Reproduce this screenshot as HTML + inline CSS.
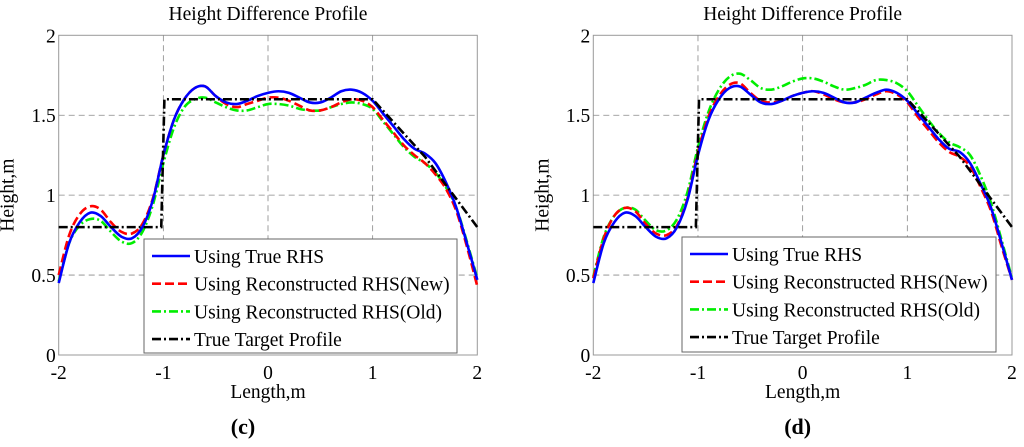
<!DOCTYPE html>
<html><head><meta charset="utf-8"><style>
body{margin:0;background:#fff;}
svg{display:block;font-family:"Liberation Serif",serif;}
</style></head><body>
<svg id="s" width="1024" height="447" viewBox="0 0 1024 447"></svg>
<script>
const xs=[-2,-1.9,-1.8,-1.7,-1.6,-1.5,-1.4,-1.3,-1.2,-1.1,-1,-0.9,-0.8,-0.7,-0.6,-0.5,-0.4,-0.3,-0.2,-0.1,0,0.1,0.2,0.3,0.4,0.5,0.6,0.7,0.8,0.9,1,1.1,1.2,1.3,1.4,1.5,1.6,1.7,1.8,1.9,2];
const cBlue=[0.45,0.7,0.83,0.89,0.87,0.8,0.74,0.73,0.8,0.97,1.25,1.47,1.6,1.67,1.68,1.62,1.58,1.57,1.59,1.62,1.64,1.65,1.64,1.61,1.58,1.58,1.61,1.65,1.66,1.64,1.59,1.51,1.43,1.35,1.29,1.26,1.2,1.08,0.92,0.7,0.47];
const cRed=[0.5,0.75,0.88,0.93,0.91,0.83,0.77,0.76,0.82,0.98,1.25,1.47,1.6,1.67,1.68,1.62,1.57,1.55,1.57,1.59,1.61,1.61,1.59,1.56,1.53,1.53,1.55,1.58,1.6,1.59,1.55,1.47,1.39,1.31,1.25,1.2,1.13,1.04,0.9,0.68,0.43];
const cGreen=[0.46,0.7,0.81,0.85,0.84,0.77,0.71,0.7,0.77,0.94,1.2,1.42,1.55,1.6,1.61,1.58,1.55,1.53,1.53,1.55,1.57,1.57,1.56,1.54,1.53,1.53,1.55,1.57,1.58,1.57,1.54,1.46,1.38,1.3,1.24,1.2,1.14,1.05,0.92,0.71,0.48];
const dBlue=[0.45,0.7,0.83,0.89,0.87,0.8,0.74,0.73,0.8,0.97,1.25,1.47,1.6,1.67,1.68,1.63,1.58,1.57,1.59,1.62,1.64,1.65,1.64,1.61,1.58,1.58,1.61,1.64,1.66,1.64,1.59,1.51,1.43,1.35,1.29,1.27,1.2,1.07,0.92,0.7,0.47];
const dRed=[0.48,0.73,0.87,0.92,0.9,0.82,0.76,0.75,0.81,0.98,1.27,1.49,1.62,1.69,1.7,1.64,1.59,1.58,1.59,1.62,1.64,1.65,1.63,1.6,1.58,1.58,1.6,1.63,1.65,1.63,1.58,1.49,1.41,1.33,1.27,1.24,1.18,1.05,0.9,0.68,0.47];
const dGreen=[0.49,0.74,0.87,0.92,0.91,0.84,0.78,0.78,0.85,1.02,1.3,1.52,1.66,1.74,1.76,1.72,1.67,1.66,1.68,1.71,1.73,1.73,1.71,1.68,1.66,1.67,1.69,1.72,1.72,1.7,1.65,1.56,1.47,1.39,1.33,1.3,1.25,1.12,0.95,0.72,0.48];
const tX=[-2,-1.02,-0.99,1,1.5,2];
const tY=[0.8,0.8,1.6,1.6,1.24,0.8];
const xTicks=[-2,-1,0,1,2];
const yTicks=[0,0.5,1,1.5,2];
const yTickLabels=["0","0.5","1","1.5","2"];
const legendLabels=["Using True RHS","Using Reconstructed RHS(New)","Using Reconstructed RHS(Old)","True Target Profile"];
const NS="http://www.w3.org/2000/svg";
const svg=document.getElementById('s');
const FS=19.5;
function mk(tag,attrs,parent,text){const e=document.createElementNS(NS,tag);for(const k in attrs)e.setAttribute(k,attrs[k]);if(text!==undefined)e.textContent=text;(parent||svg).appendChild(e);return e;}
function smooth(pts){let d=`M${pts[0][0]},${pts[0][1]}`;for(let i=0;i<pts.length-1;i++){const p0=pts[i-1]||pts[i],p1=pts[i],p2=pts[i+1],p3=pts[i+2]||p2;d+=` C${p1[0]+(p2[0]-p0[0])/6},${p1[1]+(p2[1]-p0[1])/6} ${p2[0]-(p3[0]-p1[0])/6},${p2[1]-(p3[1]-p1[1])/6} ${p2[0]},${p2[1]}`;}return d;}
const styles=[{c:"#0000ff",d:""},{c:"#ff0000",d:"9,4"},{c:"#00ee00",d:"9,3,2,3"},{c:"#000",d:"9,3,2,3"}];
function panel(name,L,R,T,B,blue,red,green,leg,label){
 const g=mk('g',{},svg);
 const X=v=>L+(v+2)/4*(R-L),Y=v=>B-v/2*(B-T);
 mk('rect',{x:L,y:T,width:R-L,height:B-T,fill:'#fff',stroke:'#999','stroke-width':1},g);
 xTicks.slice(1,-1).forEach(t=>{const l=mk('line',{x1:X(t),x2:X(t),y1:T,y2:B,stroke:'#888','stroke-dasharray':'6,4','stroke-width':0.8},g);});
 yTicks.slice(1,-1).forEach(t=>{const l=mk('line',{x1:L,x2:R,y1:Y(t),y2:Y(t),stroke:'#888','stroke-dasharray':'6,4','stroke-width':0.8},g);});
 xTicks.forEach(t=>{const e=mk('text',{x:X(t),y:B+24,'text-anchor':'middle','font-size':FS},g,String(t));});
 yTicks.forEach((t,i)=>{const e=mk('text',{x:L-3,y:Y(t)+7,'text-anchor':'end','font-size':FS},g,yTickLabels[i]);});
 const series=[blue,red,green];
 [2,1,0].forEach(i=>{const p=mk('path',{d:smooth(xs.map((x,j)=>[X(x),Y(series[i][j])])),fill:'none',stroke:styles[i].c,'stroke-width':2.6,'stroke-dasharray':styles[i].d},g);});
 const tp=mk('polyline',{points:tX.map((x,j)=>X(x)+','+Y(tY[j])).join(' '),fill:'none',stroke:'#000','stroke-width':2.6,'stroke-dasharray':'9,3,2,3'},g);
 
 const t=mk('text',{x:(L+R)/2,y:20,'text-anchor':'middle','font-size':FS},g,'Height Difference Profile');
 const xl=mk('text',{x:(L+R)/2,y:398,'text-anchor':'middle','font-size':FS},g,'Length,m');
 const yx=L-45;const yl=mk('text',{x:yx,y:(T+B)/2,'text-anchor':'middle','font-size':FS,transform:`rotate(-90 ${yx} ${(T+B)/2})`},g,'Height,m');
 const lg=mk('g',{},g);
 mk('rect',{x:leg[0],y:leg[1],width:leg[2],height:leg[3],fill:'#fff',stroke:'#666','stroke-width':1},lg);
 legendLabels.forEach((s,i)=>{const yy=leg[1]+17+i*27.7;const e=mk('g',{},lg);
  mk('line',{x1:leg[0]+8,x2:leg[0]+46,y1:yy,y2:yy,stroke:styles[i].c,'stroke-width':2.6,'stroke-dasharray':styles[i].d},e);
  mk('text',{x:leg[0]+50,y:yy+7,'font-size':FS},e,s);});
 const pl=mk('text',{x:(L+R)/2-(name==='panel-c'?25:5),y:434,'text-anchor':'middle','font-size':22,'font-weight':'bold'},g,label);
}
panel('panel-c',58.7,477.3,35.3,355,cBlue,cRed,cGreen,[144,239,313,114],'(c)');
panel('panel-d',593.3,1012,35.3,355,dBlue,dRed,dGreen,[682,237,314,115],'(d)');
</script>
</body></html>
